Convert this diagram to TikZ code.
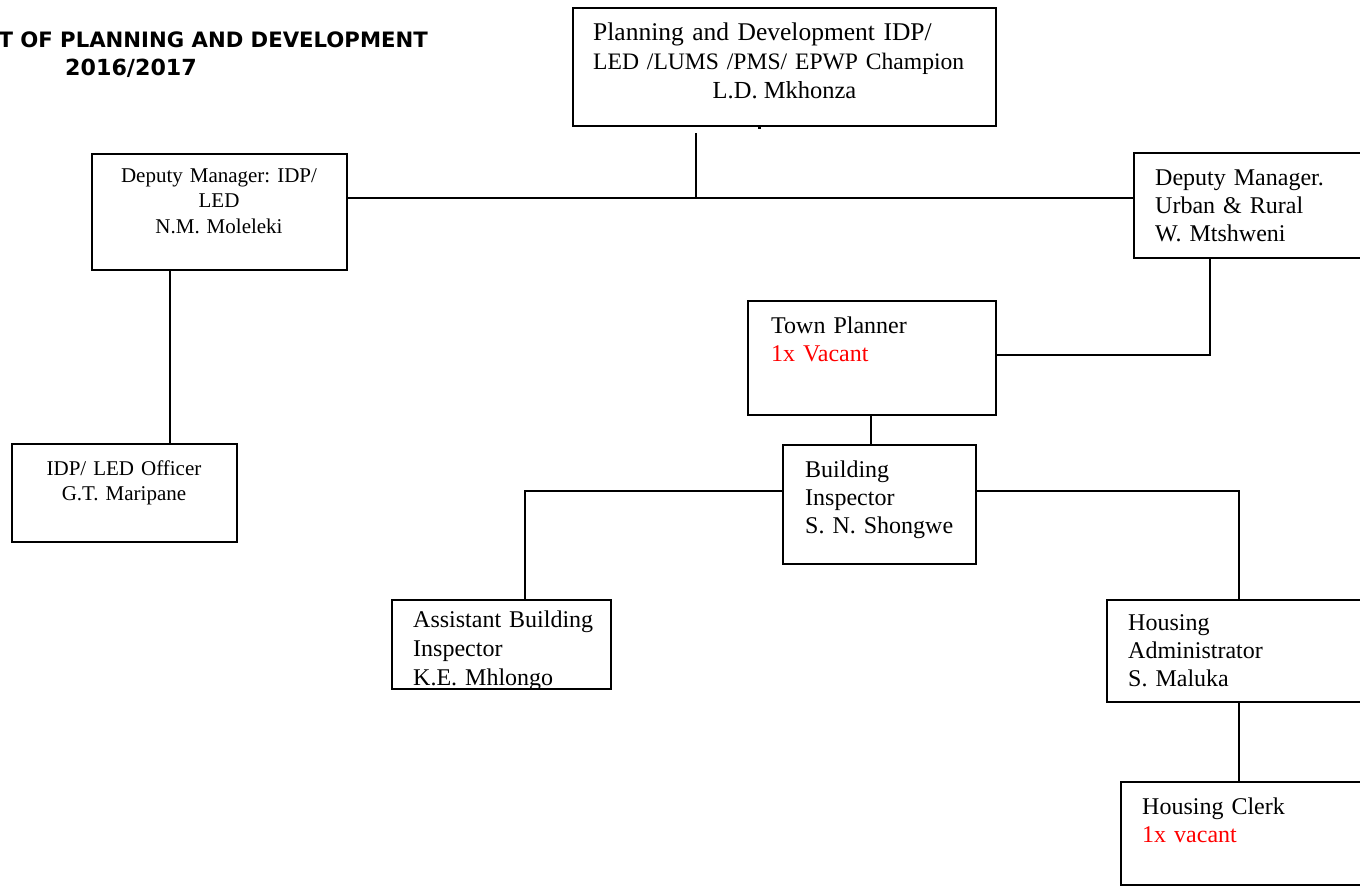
\documentclass[tikz,border=0pt]{standalone}
\usepackage{fontspec}
\setmainfont{Liberation Serif}
\newfontfamily\headfont{DejaVu Sans}
\definecolor{vacantred}{RGB}{255,0,0}
\tikzset{
  orgbox/.style={draw=black, line width=2pt, inner sep=0pt, outer sep=0pt, fill=white},
  wire/.style={draw=black, line width=2pt},
  lefttext/.style={anchor=base west, inner sep=0pt, text width=440pt, align=left,
                   font=\fontsize{24}{28}\selectfont},
  midtext/.style={anchor=base, inner sep=0pt, align=center},
  vacant/.style={text=vacantred}
}
\begin{document}
\frenchspacing
\begin{tikzpicture}[x=1pt, y=-1pt]
\clip (0,0) rectangle (1360,886);
\fill[white] (0,0) rectangle (1360,886);

% heading
\node[anchor=base east, inner sep=0pt, font=\headfont\bfseries\fontsize{21.2}{24}\selectfont] (head) at (428,47) {T OF PLANNING AND DEVELOPMENT};
\node[anchor=base, inner sep=0pt, font=\headfont\bfseries\fontsize{22.2}{26}\selectfont] (year) at (131,75) {2016/2017};

% boxes
\node[orgbox, minimum width=423pt, minimum height=118pt] (top) at (784.5,67) {};
\node[orgbox, minimum width=255pt, minimum height=116pt] (dl)  at (219.5,212) {};
\node[orgbox, minimum width=266pt, minimum height=105pt] (dr)  at (1267,205.5) {};
\node[orgbox, minimum width=225pt, minimum height=98pt]  (idp) at (124.5,493) {};
\node[orgbox, minimum width=248pt, minimum height=114pt] (tp)  at (872,358) {};
\node[orgbox, minimum width=193pt, minimum height=119pt] (bi)  at (879.5,504.5) {};
\node[orgbox, minimum width=219pt, minimum height=89pt]  (abi) at (501.5,644.5) {};
\node[orgbox, minimum width=293pt, minimum height=102pt] (ha)  at (1253.5,651) {};
\node[orgbox, minimum width=279pt, minimum height=103pt] (hc)  at (1260.5,833.5) {};

% box texts
\node[lefttext, font=\fontsize{25.5}{28.5}\selectfont] (topt1) at (593,40) {Planning and Development IDP/};
\node[lefttext, font=\fontsize{23.6}{28}\selectfont] (topt2) at (593,69) {LED /LUMS /PMS/ EPWP Champion};
\node[midtext, font=\fontsize{24.5}{28}\selectfont] (topt3) at (784.5,98) {L.D. Mkhonza};
\fill (757.5,125) rectangle (760.5,129);

\node[midtext, text width=250pt, font=\fontsize{21}{25.5}\selectfont] (dlt) at (219,182) {Deputy Manager: IDP/\\LED\\N.M. Moleleki};
\node[lefttext] (drt) at (1155,185) {Deputy Manager.\\Urban \& Rural\\W. Mtshweni};
\node[midtext, text width=220pt, font=\fontsize{21}{25}\selectfont] (idpt) at (124,475) {IDP/ LED Officer\\G.T. Maripane};
\node[lefttext] (tpt) at (771,333) {Town Planner\\\textcolor{vacantred}{1x Vacant}};
\node[lefttext] (bit) at (805,477) {Building\\Inspector\\S. N. Shongwe};
\begin{scope}
  \clip (abi.north west) rectangle ([yshift=1pt]abi.south east);
  \node[lefttext, font=\fontsize{24}{29}\selectfont] (abit) at (413,627) {Assistant Building\\Inspector\\K.E. Mhlongo};
\end{scope}
\draw[line width=2pt] (abi.south west) -- (abi.south east);
\node[lefttext] (hat) at (1128,630) {Housing\\Administrator\\S. Maluka};
\node[lefttext] (hct) at (1142,814) {Housing Clerk\\\textcolor{vacantred}{1x vacant}};

% connectors
\coordinate (j1) at (696,198);
\coordinate (j2) at (170,0);
\coordinate (j3) at (1210,355);
\coordinate (j4) at (871,0);
\coordinate (j5) at (525,491);
\coordinate (j6) at (1239,491);
\coordinate (j0) at (696,133);

\draw[wire] (j0) -- (j1);
\draw[wire] (dl.east |- j1) -- (dr.west |- j1);
\draw[wire] (dl.south -| j2) -- (idp.north -| j2);
\draw[wire] (dr.south -| j3) -- (j3) -- (tp.east |- j3);
\draw[wire] (tp.south -| j4) -- (bi.north -| j4);
\draw[wire] (bi.west |- j5) -- (j5) -- (abi.north -| j5);
\draw[wire] (bi.east |- j6) -- (j6) -- (ha.north -| j6);
\draw[wire] (ha.south -| j6) -- (hc.north -| j6);
\end{tikzpicture}
\end{document}
